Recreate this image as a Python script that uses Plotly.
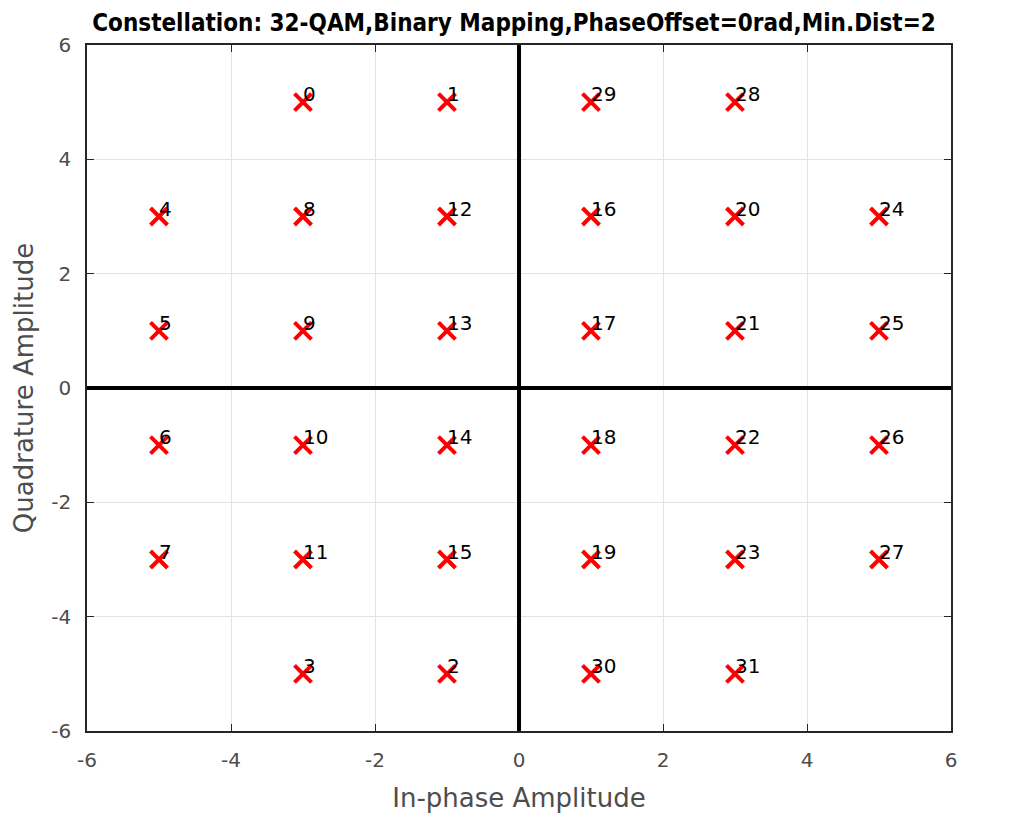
import plotly.graph_objects as go

symbols = list(range(32))
in_phase = [-3, -1, -1, -3, -5, -5, -5, -5, -3, -3, -3, -3, -1, -1, -1, -1,
            1, 1, 1, 1, 3, 3, 3, 3, 5, 5, 5, 5, 3, 1, 1, 3]
quadrature = [5, 5, -5, -5, 3, 1, -1, -3, 3, 1, -1, -3, 3, 1, -1, -3,
              3, 1, -1, -3, 3, 1, -1, -3, 3, 1, -1, -3, 5, 5, -5, -5]
tick_vals = [-6, -4, -2, 0, 2, 4, 6]
tick_text = ["-6", "-4", "-2", "0", "2", "4", "6"]

FONT = "DejaVu Sans, Liberation Sans, Arial, sans-serif"

fig = go.Figure()
fig.add_trace(go.Scatter(
    x=in_phase, y=quadrature, mode="markers",
    marker=dict(symbol="x-thin-open", size=17, line=dict(color="#ff0000", width=4), color="#ff0000"),
    showlegend=False, hoverinfo="skip"))

for s, xi, yi in zip(symbols, in_phase, quadrature):
    fig.add_annotation(x=xi, y=yi, text=str(s), showarrow=False,
                       xanchor="left", yanchor="middle", xshift=-2, yshift=8,
                       font=dict(family=FONT, size=20, color="#000000"))

# thick origin axes
fig.add_shape(type="line", x0=0, x1=0, y0=-6, y1=6, xref="x", yref="y",
              line=dict(color="black", width=4), layer="above")
fig.add_shape(type="line", x0=-6, x1=6, y0=0, y1=0, xref="x", yref="y",
              line=dict(color="black", width=4), layer="above")

axis_common = dict(
    range=[-6, 6], tickvals=tick_vals, ticktext=tick_text, showgrid=True,
    gridcolor="#e3e3e3", gridwidth=1,
    zeroline=False, showline=True, linecolor="#262626", linewidth=1.5, mirror="ticks",
    ticks="inside", ticklen=7, tickcolor="#262626", automargin=False,
    tickfont=dict(family=FONT, size=20, color="#4d4d4d"),
)
fig.update_xaxes(**axis_common, ticklabelstandoff=10,
                 title=dict(text="In-phase Amplitude", standoff=18,
                            font=dict(family=FONT, size=26, color="#4d4d4d")))
fig.update_yaxes(**axis_common, ticklabelstandoff=10,
                 title=dict(text="Quadrature Amplitude", standoff=10,
                            font=dict(family=FONT, size=26, color="#4d4d4d")))

fig.update_layout(
    width=1012, height=816,
    margin=dict(l=79, r=69, t=37, b=93),
    plot_bgcolor="white", paper_bgcolor="white",
    title=dict(text="<b>Constellation: 32-QAM,Binary Mapping,PhaseOffset=0rad,Min.Dist=2</b>",
               x=0.5, xanchor="center", y=0.9816, yref="container", yanchor="middle",
               font=dict(family="DejaVu Sans Condensed, Liberation Sans Narrow, sans-serif",
                         size=24, color="#000000")),
)

fig.write_html("out.html")
